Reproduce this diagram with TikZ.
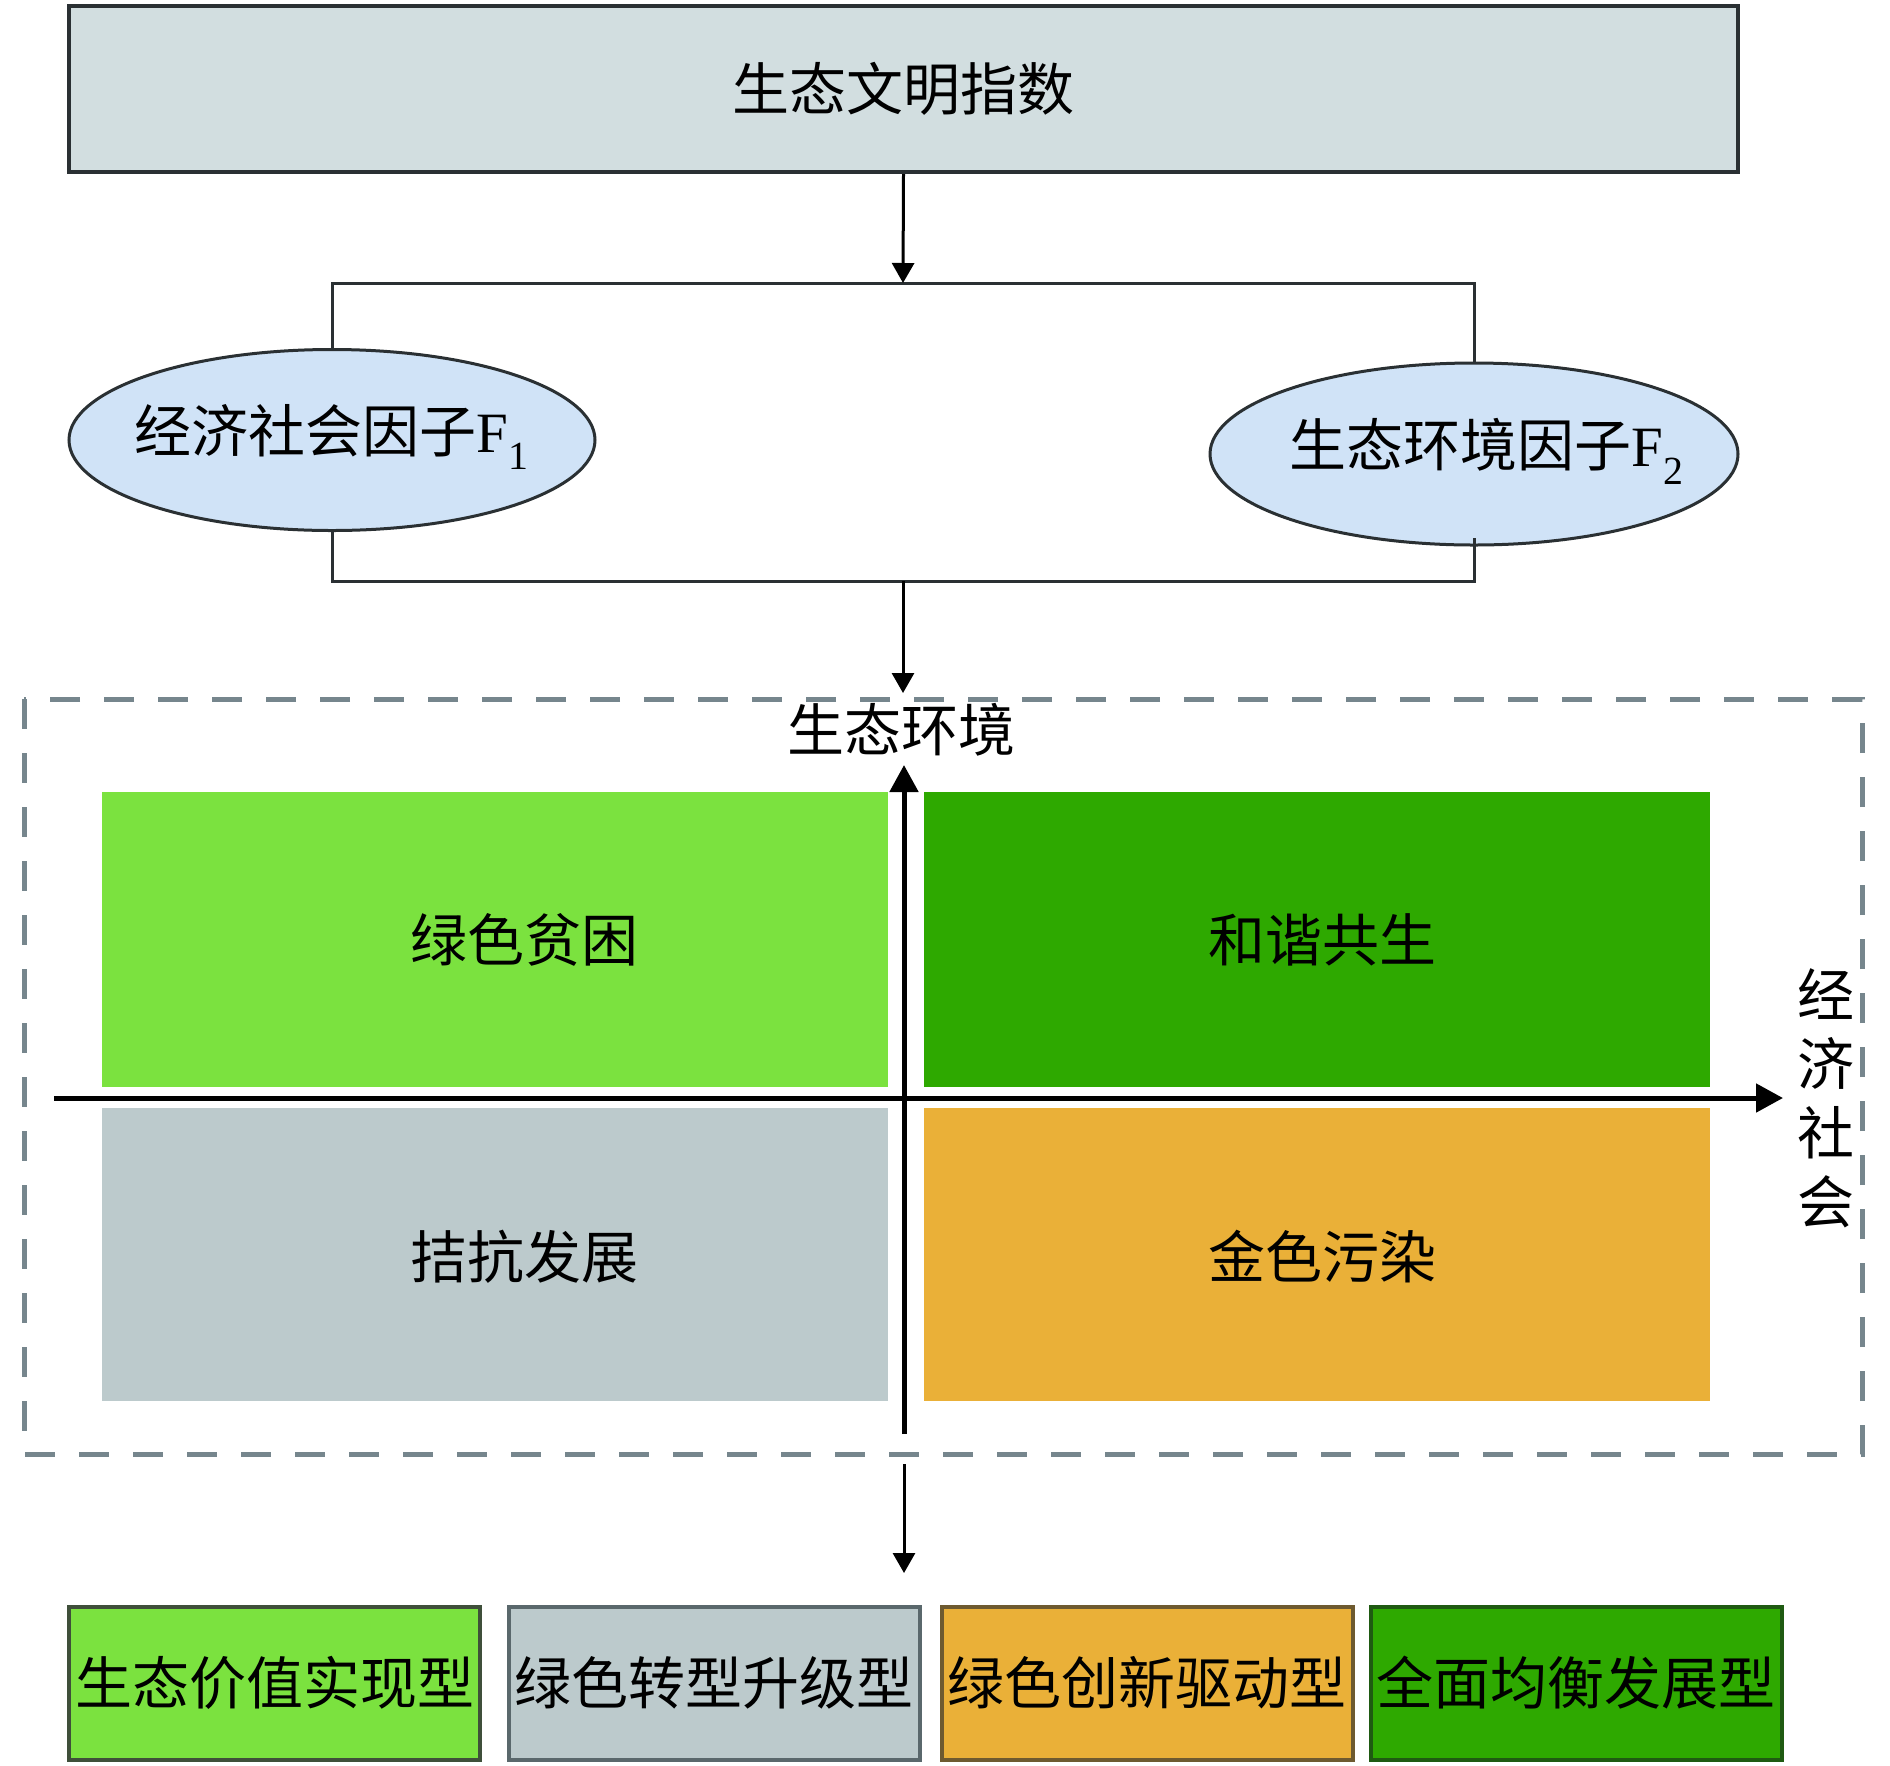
\documentclass[tikz,border=0pt]{standalone}
\usepackage{fontspec}
\setmainfont{Liberation Serif}
\newfontfamily\cjk{Noto Sans CJK SC}
\usetikzlibrary{arrows.meta,shapes.geometric}
\definecolor{topfill}{HTML}{D2DEE0}
\definecolor{ellfill}{HTML}{D0E3F7}
\definecolor{lgreen}{HTML}{7BE23F}
\definecolor{dgreen}{HTML}{2EA900}
\definecolor{lgray}{HTML}{BCCACC}
\definecolor{qorange}{HTML}{EAB038}
\definecolor{dashgray}{HTML}{76868D}
\definecolor{linedark}{HTML}{2A3033}
\definecolor{bd1}{HTML}{3F4F3A}
\definecolor{bd2}{HTML}{5A686C}
\definecolor{bd3}{HTML}{6E5A30}
\definecolor{bd4}{HTML}{1F5A12}
\tikzset{
  txt/.style={font=\cjk\fontsize{57}{68}\selectfont, inner sep=0pt},
  topbox/.style={draw=linedark, line width=4pt, fill=topfill, minimum width=1669pt, minimum height=166pt, inner sep=0pt, txt},
  ell/.style={ellipse, draw=linedark, line width=3pt, fill=ellfill, inner sep=0pt},
  conn/.style={draw=linedark, line width=3pt},
  arr/.style={draw=black, line width=3pt, -{Triangle[width=22pt,length=20pt]}},
  axis/.style={draw=black, line width=5pt, -{Triangle[width=28pt,length=27pt]}},
  dashbox/.style={draw=dashgray, line width=5pt, dash pattern=on 30pt off 24pt},
  bbox/.style={line width=4pt, minimum width=411pt, minimum height=153pt, inner sep=0pt, txt},
}
\begin{document}
\begin{tikzpicture}[x=1pt,y=-1pt]
\useasboundingbox (0,0) rectangle (1890,1765);
% top box
\node[topbox] (idx) at (903.5,89) {生态文明指数};
% ellipses
\node[ell, minimum width=526pt, minimum height=181pt] (f1) at (332,440) {};
\node[txt] (f1t) at (332,437) {经济社会因子\textrm{F}\textsubscript{\textrm{1}}};
\node[ell, minimum width=528pt, minimum height=182pt] (f2) at (1474,454) {};
\node[txt] (f2t) at (1487,451) {生态环境因子\textrm{F}\textsubscript{\textrm{2}}};
% bracket
\coordinate (brtop) at (903,283);
\coordinate (brbot) at (903,581);
\coordinate (dashtop) at (903,693);
\draw[conn] (f1.north) |- (brtop) -| (f2.north);
\draw[conn] (f1.south) |- (brbot) -| ([yshift=9pt]f2.south);
\draw[arr] (idx.south) -- (brtop);
\draw[arr] (brbot) -- (dashtop);
% dashed frame
\draw[dashbox] (24,699) rectangle (1862,1454);
% quadrants
\fill[lgreen] (102,792) rectangle (888,1087);
\fill[dgreen] (924,792) rectangle (1710,1087);
\fill[lgray] (102,1108) rectangle (888,1401);
\fill[qorange] (924,1108) rectangle (1710,1401);
\node[txt] (q1) at (524,940) {绿色贫困};
\node[txt] (q2) at (1322,940) {和谐共生};
\node[txt] (q3) at (524,1257) {拮抗发展};
\node[txt] (q4) at (1322,1257) {金色污染};
% axes
\coordinate (vb) at (904,1434);
\coordinate (vt) at (904,765);
\coordinate (hl) at (54,1098);
\coordinate (hr) at (1783,1098);
\draw[axis] (vb) -- (vt);
\draw[axis] (hl) -- (hr);
\node[txt] (ylab) at (901,730) {生态环境};
\node[txt, align=center, font=\cjk\fontsize{57}{69}\selectfont] (xlab) at (1826,1098) {经\\济\\社\\会};
% bottom arrow
\coordinate (a3s) at (904,1464);
\coordinate (a3e) at (904,1573);
\draw[arr] (a3s) -- (a3e);
% bottom boxes
\node[bbox, fill=lgreen, draw=bd1] (b1) at (274.5,1683) {生态价值实现型};
\node[bbox, fill=lgray, draw=bd2] (b2) at (714,1683) {绿色转型升级型};
\node[bbox, fill=qorange, draw=bd3] (b3) at (1147,1683) {绿色创新驱动型};
\node[bbox, fill=dgreen, draw=bd4] (b4) at (1576,1683) {全面均衡发展型};
\end{tikzpicture}
\end{document}
